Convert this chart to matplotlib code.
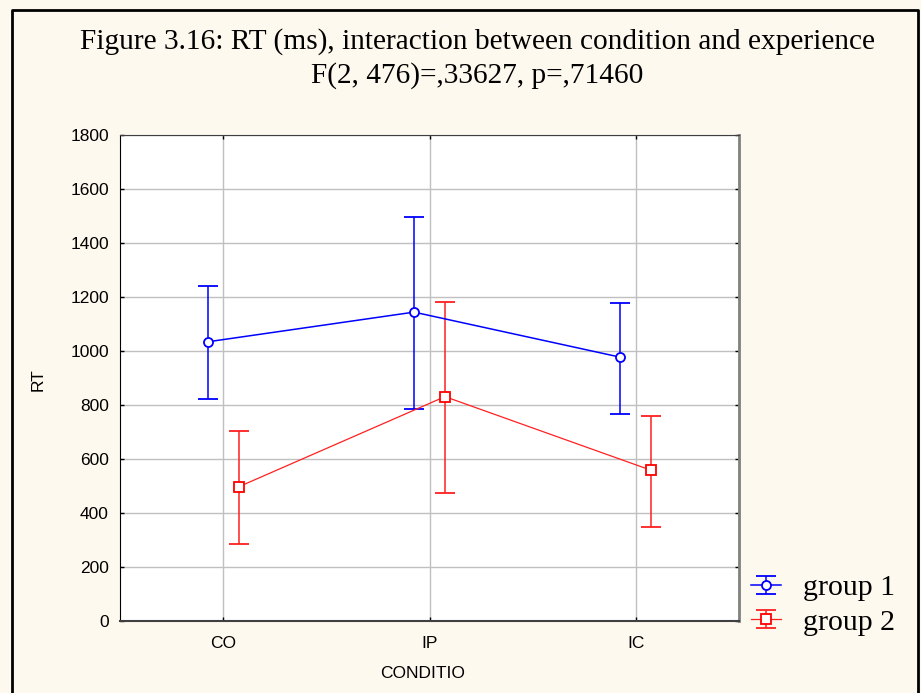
import numpy
import matplotlib
matplotlib.use('Agg')
import matplotlib.pyplot as plt
from matplotlib.lines import Line2D
from matplotlib.legend_handler import HandlerErrorbar

# data
conditions = ['CO', 'IP', 'IC']
group1_mean = [1034, 1144, 977]
group1_low = [821, 786, 768]
group1_high = [1241, 1496, 1179]
group2_mean = [497, 831, 558]
group2_low = [285, 474, 349]
group2_high = [705, 1183, 759]
yticks = [0, 200, 400, 600, 800, 1000, 1200, 1400, 1600, 1800]

bg = '#FEF9EE'
fig = plt.figure(figsize=(9.21, 6.93), dpi=100, facecolor=bg)

# outer frame (top, left, right)
fig.add_artist(Line2D([12/921, 12/921, 918/921, 918/921],
                      [0, 1-10/693, 1-10/693, 0],
                      transform=fig.transFigure, color='black', lw=2))

ax = fig.add_axes([120/921, 72/693, 619/921, 486/693])
ax.set_facecolor('white')

x = numpy.arange(len(conditions))
off = 0.075

m1 = numpy.array(group1_mean)
m2 = numpy.array(group2_mean)
err1 = [m1 - numpy.array(group1_low), numpy.array(group1_high) - m1]
err2 = [m2 - numpy.array(group2_low), numpy.array(group2_high) - m2]

e1 = ax.errorbar(x - off, m1, yerr=err1, color='#0000FF', lw=1.1, elinewidth=1.1,
                 capsize=7.5, capthick=1.1, marker='o', markersize=6.5,
                 markerfacecolor='white', markeredgecolor='#0000FF', markeredgewidth=1.3,
                 label='group 1', zorder=4)
e2 = ax.errorbar(x + off, m2, yerr=err2, color='#FF2020', lw=0.9, elinewidth=1.1,
                 capsize=7.5, capthick=1.1, marker='s', markersize=6.5,
                 markerfacecolor='white', markeredgecolor='#FF0000', markeredgewidth=1.3,
                 label='group 2', zorder=4)

ax.set_xlim(-0.5, 2.5)
ax.set_ylim(0, 1800)
ax.set_xticks(x)
ax.set_xticklabels(conditions)
ax.set_yticks(yticks)
ax.grid(True, color='#C0C0C0', lw=1)
ax.set_axisbelow(True)
ax.tick_params(direction='in', length=3, width=1, top=True, right=True,
               labelsize=12.5, pad=8, colors='black')
ax.tick_params(axis='x', pad=11)

for lab in ax.get_xticklabels() + ax.get_yticklabels():
    lab.set_fontfamily('Liberation Sans')

ax.spines['left'].set_color('black')
ax.spines['bottom'].set_color('#404040')
ax.spines['top'].set_color('#404040')
ax.spines['right'].set_color('#808080')
ax.spines['right'].set_linewidth(2)
ax.spines['bottom'].set_linewidth(1.5)

# axis titles
fig.text(38/921, 1-380/693, 'RT', rotation=90, ha='center', va='center',
         fontsize=12.5, family='Liberation Sans')
fig.text(423/921, 1-674/693, 'CONDITIO', ha='center', va='center',
         fontsize=12.5, family='Liberation Sans')

fig.text(0.518, 1-42/693, 'Figure 3.16: RT (ms), interaction between condition and experience',
         ha='center', va='center', fontsize=21.2, family='Liberation Serif')
fig.text(0.518, 1-76/693, 'F(2, 476)=,33627, p=,71460',
         ha='center', va='center', fontsize=21.2, family='Liberation Serif')

fig.legend(handles=[e1, e2], labels=['group 1', 'group 2'],
           loc='center left', bbox_to_anchor=(736/921, 1-605/693),
           frameon=False, prop={'family': 'Liberation Serif', 'size': 21.5},
           handlelength=1.0, handletextpad=0.75, labelspacing=0.25, borderpad=0,
           handler_map={type(e1): HandlerErrorbar(yerr_size=0.3)})

fig.savefig('out.png', dpi=100, facecolor=bg)
